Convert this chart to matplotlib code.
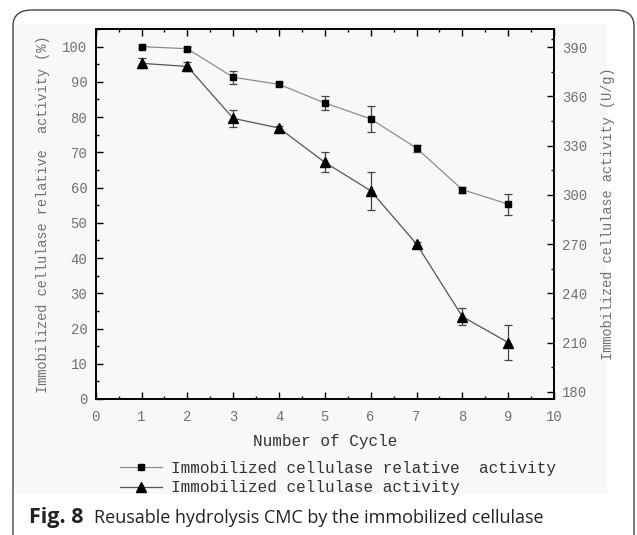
import matplotlib
matplotlib.use("Agg")
import matplotlib.pyplot as plt
from matplotlib.patches import FancyBboxPatch, Rectangle
from matplotlib.lines import Line2D

# data
cycles = [1, 2, 3, 4, 5, 6, 7, 8, 9]
relative_activity = [100.0, 99.4, 91.3, 89.3, 84.0, 79.5, 71.2, 59.4, 55.3]
relative_err = [0.5, 0.6, 1.9, 0.6, 2.1, 3.6, 1.0, 0.9, 3.0]
activity = [380.1, 378.2, 346.6, 340.7, 319.8, 302.5, 270.1, 225.9, 210.1]
activity_err = [3.0, 3.0, 5.3, 1.0, 6.0, 11.5, 1.5, 5.0, 10.5]

left_ticks = [0, 10, 20, 30, 40, 50, 60, 70, 80, 90, 100]
right_ticks = [180, 210, 240, 270, 300, 330, 360, 390]
x_ticks = [0, 1, 2, 3, 4, 5, 6, 7, 8, 9, 10]

W, H = 637, 535
mono = "Liberation Mono"
tick_gray = "#707070"

fig = plt.figure(figsize=(W / 100, H / 100), dpi=100)

# outer rounded frame and light chart background
bg = Rectangle((15 / W, 1 - 494 / H), (607 - 15) / W, (494 - 24) / H,
               transform=fig.transFigure, facecolor="#f8f8f8",
               edgecolor="none", zorder=-2)
frame = FancyBboxPatch((13 / W, -0.05), (634 - 13) / W, 1 - 10 / H + 0.05,
                       boxstyle="round,pad=0,rounding_size=0.03",
                       transform=fig.transFigure, facecolor="none",
                       edgecolor="#444444", linewidth=1.0, zorder=-1)
fig.patches.extend([bg, frame])

ax = fig.add_axes([95.7 / W, 1 - 399 / H, (554 - 95.7) / W, (399 - 29) / H])
ax.set_facecolor("none")
ax2 = ax.twinx()

ax.errorbar(cycles, relative_activity, yerr=relative_err, color="#8c8c8c",
            lw=0.9, marker="s", ms=4.8, mfc="black", mec="black",
            ecolor="#444444", elinewidth=0.9, capsize=3.2, capthick=0.9, zorder=3)
ax2.errorbar(cycles, activity, yerr=activity_err, color="#555555",
             lw=0.9, marker="^", ms=7, mfc="black", mec="black",
             ecolor="#444444", elinewidth=0.9, capsize=3.2, capthick=0.9, zorder=3)

ax.set_xlim(0, 10)
ax.set_ylim(0, 105)
ax2.set_ylim(175.7, 401)

ax.set_xticks(x_ticks)
ax.set_xticks([v + 0.5 for v in x_ticks[:-1]], minor=True)
ax.set_yticks(left_ticks)
ax.set_yticks([v + 5 for v in left_ticks], minor=True)
ax2.set_yticks(right_ticks)
ax2.set_yticks([v + 15 for v in right_ticks[:-1]] + [395], minor=True)

for a in (ax, ax2):
    for s in a.spines.values():
        s.set_linewidth(1.2)
    a.tick_params(which="major", direction="in", length=5, width=1.0,
                  labelsize=10, labelcolor=tick_gray, pad=6)
    a.tick_params(which="minor", direction="in", length=2.5, width=1.0)
ax.tick_params(axis="x", which="both", top=True)
ax.tick_params(axis="x", which="major", pad=8)
for lab in ax.get_xticklabels() + ax.get_yticklabels() + ax2.get_yticklabels():
    lab.set_fontfamily(mono)

ax.set_ylabel("Immobilized cellulase relative  activity (%)", fontfamily=mono,
              fontsize=9.8, color=tick_gray, labelpad=9)
ax2.set_ylabel("Immobilized cellulase activity (U/g)", fontfamily=mono,
               fontsize=9.8, color=tick_gray, labelpad=10)
ax.set_xlabel("Number of Cycle", fontfamily=mono, fontsize=11.5, color="#333333",
              labelpad=7)

handles = [
    Line2D([], [], color="#8c8c8c", lw=0.9, marker="s", ms=4.8, mfc="black", mec="black"),
    Line2D([], [], color="#555555", lw=0.9, marker="^", ms=7, mfc="black", mec="black"),
]
fig.legend(handles, ["Immobilized cellulase relative  activity",
                     "Immobilized cellulase activity"],
           loc="center left", bbox_to_anchor=(106 / W, 1 - 478 / H),
           frameon=False, prop={"family": mono, "size": 11.5},
           labelcolor="#333333", handlelength=2.6, handletextpad=0.6,
           labelspacing=0.3)

fig.text(29 / W, 1 - 518 / H, "Fig. 8", fontfamily="Open Sans", fontweight="bold",
         fontsize=15.5, va="center", ha="left", color="#222222")
fig.text(94 / W, 1 - 518 / H, "Reusable hydrolysis CMC by the immobilized cellulase",
         fontfamily="Open Sans", fontsize=13.0, va="center", ha="left", color="#222222")

fig.savefig("out.png", dpi=100)
